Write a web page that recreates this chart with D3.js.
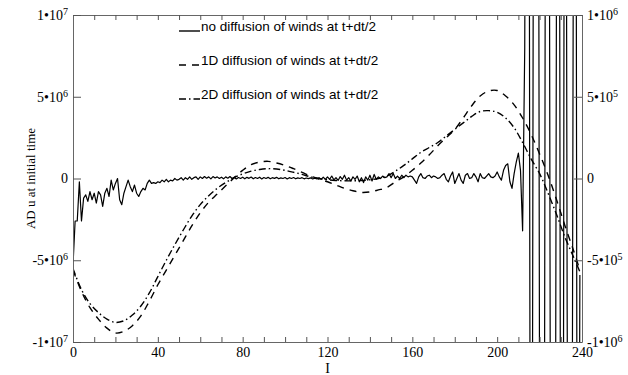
<!DOCTYPE html>
<html><head><meta charset="utf-8">
<script src="https://cdn.jsdelivr.net/npm/d3@7"></script>
<style>body{margin:0;background:#fff;} svg{display:block;}</style>
</head><body>
<script>
// ---- data (values in units of 1e6) ----
const solidValues = [
 -5.3,-2.6,-2.6,-0.2,-2.6,-1.2,-1.0,-1.4,-0.8,-1.3,
 -0.9,-1.5,-0.8,-1.0,-1.7,-0.9,-0.6,-1.1,-0.1,-0.7,
 -0.3,0.0,-1.3,-1.6,-0.9,-0.5,-0.1,-0.5,-0.8,-0.4,
 -0.9,-1.1,-0.8,-0.6,-0.7,-0.3,-0.1,-0.3,-0.25,-0.3,
 -0.2,-0.25,-0.1,-0.2,-0.05,-0.2,-0.1,-0.15,0.0,-0.1,
 -0.05,0.05,-0.1,0.05,-0.05,0.1,-0.05,0.05,0.1,-0.05,
 0.1,0.0,0.12,0.02,0.1,-0.02,0.12,0.03,0.1,0.0,
 0.08,-0.02,0.1,0.02,0.12,0.0,0.08,-0.03,0.06,0.0,
 0.08,-0.02,0.07,0.01,0.09,-0.02,0.06,0.0,0.08,-0.03,
 0.06,0.0,0.07,-0.02,0.05,0.01,0.07,-0.02,0.04,0.0,
 0.06,-0.03,0.05,0.0,0.06,-0.02,0.04,0.0,0.05,-0.02,
 0.03,-0.01,0.04,-0.03,0.02,-0.02,0.05,-0.05,0.08,-0.06,
 0.1,-0.05,0.15,-0.08,0.05,-0.12,0.12,-0.05,0.2,-0.1,
 0.05,-0.15,0.1,-0.05,0.15,-0.2,0.05,-0.25,0.1,-0.1,
 0.2,-0.15,0.25,-0.05,0.1,0.0,0.15,0.05,0.1,0.3,
 0.05,0.3,0.0,0.15,0.0,0.2,0.05,0.2,0.1,0.15,
 0.1,-0.1,-0.3,0.1,0.3,0.05,0.0,0.15,0.2,0.05,
 0.15,0.1,0.0,0.05,0.2,0.3,-0.05,-0.2,0.15,0.4,
 -0.3,0.0,0.3,-0.1,-0.3,0.2,0.3,0.0,0.05,0.3,
 0.1,-0.2,0.3,0.05,0.0,0.15,0.3,0.1,0.05,0.15,
 0.4,0.1,-0.1,0.5,0.8,0.9,-0.2,-0.6,0.3,1.0,
 1.55,0.5,-3.2,8,50,30,-60,12,40,60,
 -15,-40,-40,40,60,-10,-40,-50,15,50,
 -30,-40,60,-8,-40,-40,20,40,-50,-5.9
];
const curveIndex = [0,4,8,12,16,20,24,28,32,36,40,44,48,52,56,60,64,68,72,76,80,84,88,92,96,100,
 104,108,112,116,120,124,128,132,136,140,144,148,152,156,160,164,168,172,176,180,184,188,192,196,200,
 204,208,212,216,220,224,228,232,236,239];
const dashed1D = [-5.6,-6.9,-7.9,-8.6,-9.15,-9.45,-9.35,-9.0,-8.4,-7.5,-6.5,-5.6,-4.7,-3.8,-2.9,-2.1,
 -1.45,-0.95,-0.45,0.05,0.5,0.85,1.0,1.05,0.95,0.8,0.6,0.38,0.15,-0.03,-0.2,-0.4,-0.6,-0.75,-0.85,-0.82,
 -0.7,-0.55,-0.2,0.1,0.5,0.95,1.45,2.0,2.5,3.0,3.7,4.45,5.05,5.35,5.38,5.05,4.5,3.7,2.7,1.5,0.2,-1.3,
 -2.9,-4.4,-5.6];
const dashdot2D = [-5.5,-6.8,-7.65,-8.2,-8.6,-8.8,-8.7,-8.35,-7.8,-7.0,-6.0,-5.0,-4.05,-3.15,-2.3,-1.6,
 -1.05,-0.6,-0.25,0.05,0.28,0.45,0.55,0.6,0.58,0.5,0.38,0.25,0.1,0.0,-0.08,-0.12,-0.14,-0.14,-0.12,-0.08,
 0.0,0.15,0.45,0.8,1.2,1.6,1.9,2.2,2.6,3.0,3.4,3.8,4.1,4.15,4.05,3.7,3.1,2.2,1.2,0.3,-0.9,-2.2,
 -3.6,-4.8,-5.7];
const xTickValues = [0,10,20,30,40,50,60,70,80,90,100,110,120,130,140,150,160,170,180,190,200,210,220,230,240];
const xTickLabels = [0,40,80,120,160,200,240];
const leftTicks = [-1e7,-5e6,0,5e6,1e7];
const leftTickLabels = [["-1•10","7"],["-5•10","6"],["0",""],["5•10","6"],["1•10","7"]];
const rightTicks = [-1e6,-5e5,0,5e5,1e6];
const rightTickLabels = [["-1•10","6"],["-5•10","5"],["0",""],["5•10","5"],["1•10","6"]];
const legendLabels = ["no diffusion of winds at t+dt/2","1D diffusion of winds at t+dt/2","2D diffusion of winds at t+dt/2"];
const yTitle = "AD u at initial time";
const xTitle = "I";

// ---- layout ----
const W = 628, H = 375, L = 73, R = 582, T = 15, B = 342;
const SERIF = "'Liberation Serif','Times New Roman',serif";
const SANS = "'Liberation Sans',Arial,sans-serif";
const DASH = "7,6", DASHDOT = "7,3,1.5,3";

const svg = d3.select("body").append("svg").attr("width", W).attr("height", H);
const x = d3.scaleLinear().domain([0, 240]).range([L, R]);
const y = d3.scaleLinear().domain([-1e7, 1e7]).range([B, T]);
const y2 = d3.scaleLinear().domain([-1e6, 1e6]).range([B, T]);

svg.append("clipPath").attr("id", "clip").append("rect")
  .attr("x", L).attr("y", T).attr("width", R - L).attr("height", B - T);

const plot = svg.append("g").attr("clip-path", "url(#clip)");
const line = d3.line().x(d => x(d[0])).y(d => y(d[1] * 1e6));
const smooth = d3.line().x(d => x(d[0])).y(d => y(d[1] * 1e6)).curve(d3.curveCatmullRom);

plot.append("path").datum(curveIndex.map((v, i) => [v, dashed1D[i]]))
  .attr("d", smooth).attr("fill", "none").attr("stroke", "#000").attr("stroke-width", 1.4)
  .attr("stroke-dasharray", DASH);
plot.append("path").datum(curveIndex.map((v, i) => [v, dashdot2D[i]]))
  .attr("d", smooth).attr("fill", "none").attr("stroke", "#000").attr("stroke-width", 1.4)
  .attr("stroke-dasharray", DASHDOT);
plot.append("path").datum(solidValues.map((v, i) => [i, v]))
  .attr("d", line).attr("fill", "none").attr("stroke", "#000").attr("stroke-width", 1.2)
  .attr("stroke-linejoin", "round");

// ---- axes ----
function styleAxis(g) {
  g.select(".domain").attr("stroke", "#666");
  g.selectAll(".tick line").attr("stroke", "#555");
  g.selectAll("text").attr("font-family", SERIF).attr("font-size", 14).attr("fill", "#000");
}
svg.append("g").attr("transform", `translate(0,${B})`)
  .call(d3.axisBottom(x).tickValues(xTickValues).tickSize(-5).tickSizeOuter(0).tickPadding(5)
    .tickFormat(d => xTickLabels.includes(d) ? String(d) : ""))
  .call(styleAxis);
svg.append("g").attr("transform", `translate(0,${T})`)
  .call(d3.axisTop(x).tickValues(xTickValues).tickSize(-5).tickSizeOuter(0).tickFormat(""))
  .call(styleAxis);

function supLabels(g, ticks, labels) {
  g.selectAll(".tick text").each(function (d) {
    const lab = labels[ticks.indexOf(d)];
    const t = d3.select(this).text(lab[0]);
    if (lab[1]) t.append("tspan").attr("dy", "-0.5em").attr("font-size", 10).text(lab[1]);
  });
}
svg.append("g").attr("transform", `translate(${L},0)`)
  .call(d3.axisLeft(y).tickValues(leftTicks).tickSize(-8).tickSizeOuter(0).tickPadding(5))
  .call(styleAxis).call(g => supLabels(g, leftTicks, leftTickLabels));
svg.append("g").attr("transform", `translate(${R},0)`)
  .call(d3.axisRight(y2).tickValues(rightTicks).tickSize(-8).tickSizeOuter(0).tickPadding(5))
  .call(styleAxis).call(g => supLabels(g, rightTicks, rightTickLabels));

// ---- titles ----
svg.append("text").attr("transform", `translate(35,${(T + B) / 2}) rotate(-90)`)
  .attr("text-anchor", "middle").attr("font-family", SERIF).attr("font-size", 13)
  .text(yTitle);
svg.append("text").attr("x", (L + R) / 2).attr("y", 373).attr("text-anchor", "middle")
  .attr("font-family", SERIF).attr("font-size", 14).text(xTitle);

// ---- legend ----
const rows = [31, 65, 99];
const dashes = [null, DASH, DASHDOT];
legendLabels.forEach((lab, i) => {
  const g = svg.append("g");
  g.append("line").attr("x1", 179).attr("x2", 200).attr("y1", rows[i]).attr("y2", rows[i])
    .attr("stroke", "#000").attr("stroke-width", 1.4)
    .attr("stroke-dasharray", dashes[i]);
  g.append("text").attr("x", 201).attr("y", rows[i]).attr("font-family", SANS)
    .attr("font-size", 13.5).text(lab);
});
</script>
</body></html>
